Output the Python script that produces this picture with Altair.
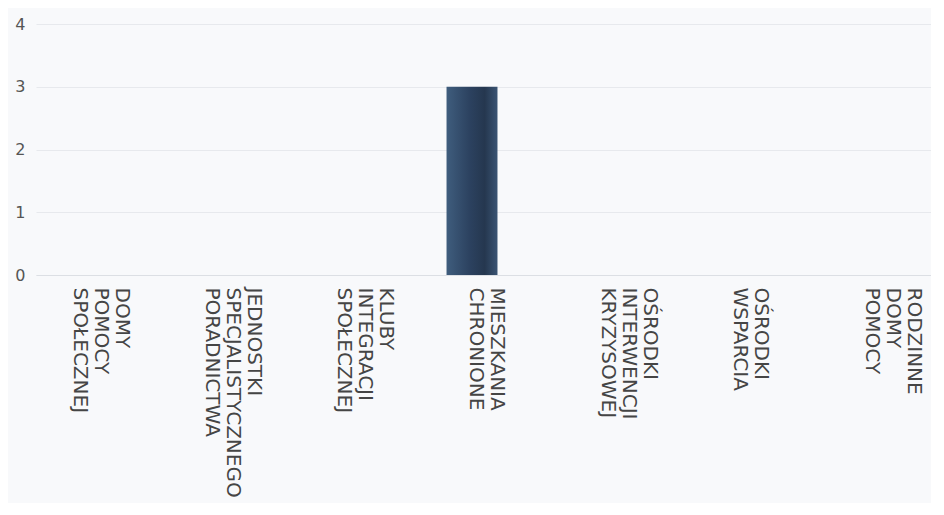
import altair as alt
import pandas as pd

categories = [
    "DOMY POMOCY SPOŁECZNEJ",
    "JEDNOSTKI SPECJALISTYCZNEGO PORADNICTWA",
    "KLUBY INTEGRACJI SPOŁECZNEJ",
    "MIESZKANIA CHRONIONE",
    "OŚRODKI INTERWENCJI KRYZYSOWEJ",
    "OŚRODKI WSPARCIA",
    "RODZINNE DOMY POMOCY",
]
values = [0, 0, 0, 3, 0, 0, 0]
y_ticks = [0, 1, 2, 3, 4]

df = pd.DataFrame({"kategoria": categories, "liczba": values})

bar_fill = alt.Gradient(
    gradient="linear",
    x1=0, x2=1, y1=0, y2=0,
    stops=[
        alt.GradientStop(offset=0, color="#3f5d7d"),
        alt.GradientStop(offset=0.45, color="#2c4260"),
        alt.GradientStop(offset=0.75, color="#25374f"),
        alt.GradientStop(offset=1, color="#3a5473"),
    ],
)

LINE_H = 21

chart = (
    alt.Chart(df)
    .mark_bar(color=bar_fill)
    .encode(
        x=alt.X(
            "kategoria:N",
            sort=categories,
            title=None,
            scale=alt.Scale(paddingInner=0.614, paddingOuter=0.197, align=0.279),
            axis=alt.Axis(
                labelAngle=90,
                labelAlign="left",
                labelBaseline="bottom",
                labelOffset={
                    "condition": {
                        "test": "length(split(datum.label, ' ')) == 3",
                        "value": 2 * LINE_H - 6,
                    },
                    "value": LINE_H - 6,
                },
                labelPadding=12,
                labelExpr="split(datum.label, ' ')",
                labelFont="DejaVu Sans",
                labelFontSize=20,
                labelLineHeight=LINE_H,
                labelColor="#454545",
                labelLimit=0,
                ticks=False,
                domain=True,
                domainColor="#dcdfe4",
                grid=False,
            ),
        ),
        y=alt.Y(
            "liczba:Q",
            title=None,
            scale=alt.Scale(domain=[0, 4], nice=False),
            axis=alt.Axis(
                values=y_ticks,
                labelFont="DejaVu Sans",
                labelFontSize=16,
                labelColor="#555555",
                labelPadding=11,
                ticks=False,
                domain=False,
                gridColor="#e7e9ed",
                gridWidth=1,
            ),
        ),
    )
    .properties(
        width=895,
        height=251,
        background="#f8f9fb",
        padding={"left": 6, "top": 8, "right": 0, "bottom": 5},
    )
    .configure_view(stroke=None)
)

chart.save("out.html", embed_options={"renderer": "svg", "actions": False})
